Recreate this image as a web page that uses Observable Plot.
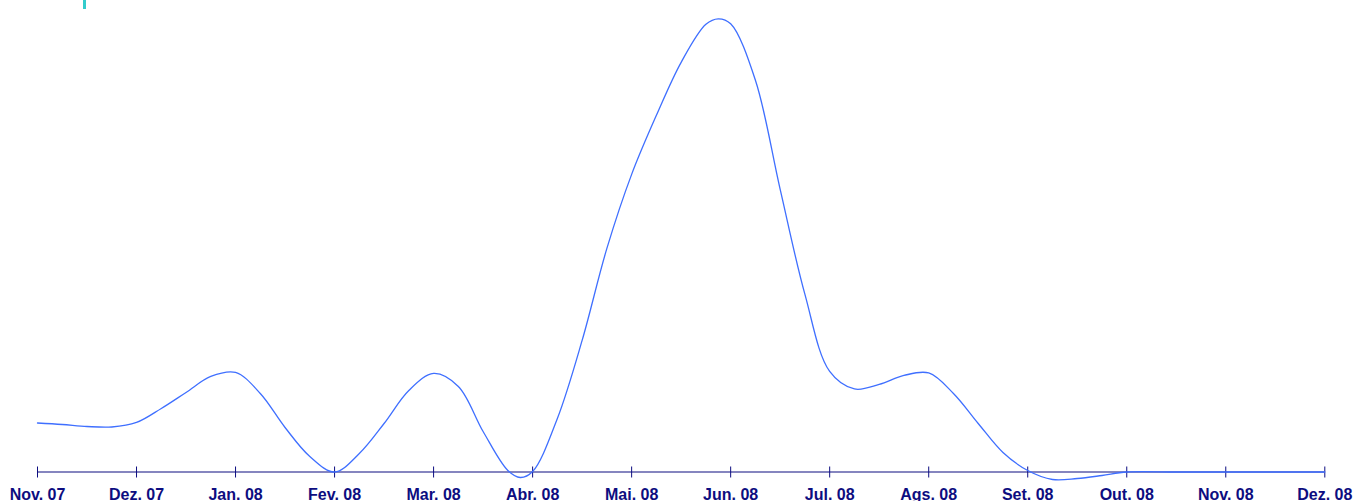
<!DOCTYPE html>
<html>
<head>
<meta charset="utf-8">
<script src="https://cdn.jsdelivr.net/npm/d3@7"></script>
<script src="https://cdn.jsdelivr.net/npm/@observablehq/plot@0.6"></script>
<style>
  html, body { margin: 0; padding: 0; background: #ffffff; }
  #chart { position: relative; width: 1355px; height: 501px; }
  #marker { position: absolute; left: 83px; top: 0; width: 3px; height: 9px; background: #33cccc; }
  svg { display: block; }
</style>
</head>
<body>
<div id="chart"><div id="marker"></div></div>
<script>
// Month tick labels (category axis)
const months = ["Nov. 07", "Dez. 07", "Jan. 08", "Fev. 08", "Mar. 08", "Abr. 08", "Mai. 08",
                "Jun. 08", "Jul. 08", "Ags. 08", "Set. 08", "Out. 08", "Nov. 08", "Dez. 08"];
const monthPos = months.map((_, i) => i);

// Series: position in months since Nov. 07, and value (arbitrary units)
const samplePos = [0, 0.25, 0.5, 0.75, 1, 1.25, 1.5, 1.75, 2, 2.25, 2.5, 2.75,
                   3, 3.25, 3.5, 3.75, 4, 4.25, 4.5, 4.75, 4.875, 5, 5.25, 5.5, 5.75,
                   6, 6.25, 6.5, 6.75, 6.875, 7, 7.25, 7.5, 7.75, 8, 8.25, 8.5, 8.75,
                   9, 9.25, 9.5, 9.75, 10, 10.25, 10.5, 10.75, 11, 11.5, 12, 12.5, 13];
const sampleValue = [49, 47.5, 45.5, 45, 49.5, 63.5, 79.5, 95.5, 99.5, 78.5, 44.5, 15.5,
                     0, 18.5, 48.5, 81.5, 98.5, 85.5, 40.5, 1.5, -5.5, 0.5, 53.5, 131.5, 223.5,
                     297.5, 356.5, 409.5, 447.5, 453, 448, 391.5, 282.5, 177.5, 100.5, 83, 87.5, 96.5,
                     99, 78.5, 48.5, 19.5, 1.5, -7.5, -6.5, -3.5, 0, 0, 0, 0, 0];

const series = samplePos.map((x, i) => ({x, value: sampleValue[i]}));

const navy = "#0d0d80";
const lineColor = "#3f6fff";

const chart = Plot.plot({
  width: 1355,
  height: 501,
  marginLeft: 37,
  marginRight: 30.7,
  marginTop: 18.3,
  marginBottom: 29.5,
  style: {fontFamily: "'Liberation Sans', Arial, sans-serif", fontSize: "16px", fontWeight: "bold", color: navy, background: "transparent"},
  x: {domain: [0, 13], axis: null, label: null},
  y: {domain: [0, 453], axis: null, label: null},
  marks: [
    Plot.ruleY([0], {stroke: navy, strokeWidth: 1.2}),
    Plot.ruleX(monthPos, {x: d => d, y1: 0, y2: 0, insetTop: -5, insetBottom: -6, stroke: navy, strokeWidth: 1}),
    Plot.axisX({ticks: monthPos, tickFormat: i => months[i], tickSize: 0, tickPadding: 17, label: null,
                fontSize: 16, fontWeight: "bold", fill: navy}),
    Plot.line(series, {x: "x", y: "value", curve: "catmull-rom", stroke: lineColor, strokeWidth: 1.3})
  ]
});
document.getElementById("chart").appendChild(chart);
</script>
</body>
</html>
